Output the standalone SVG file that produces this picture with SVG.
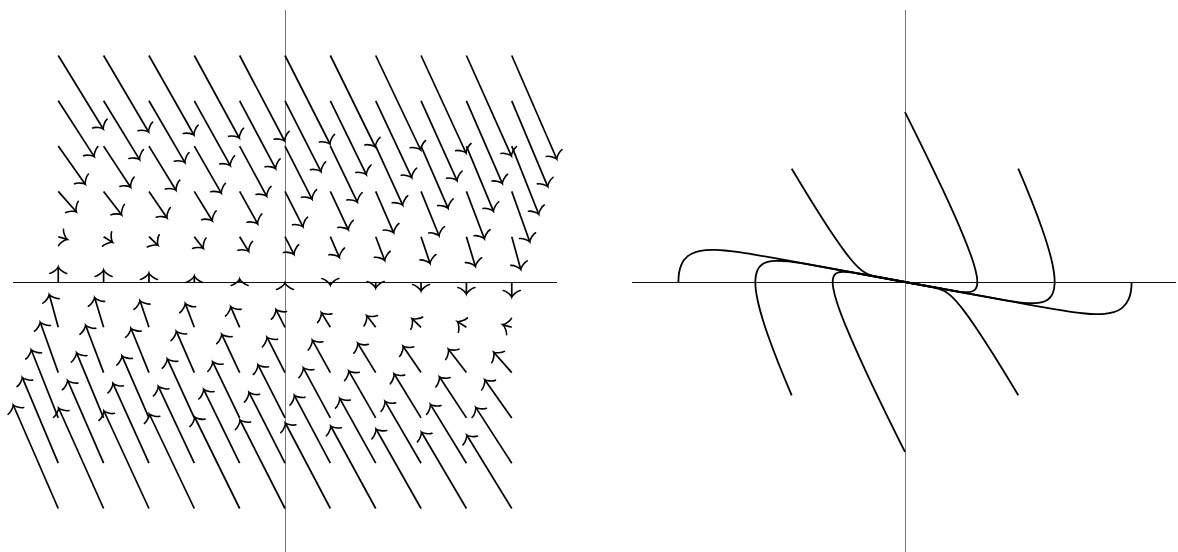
<svg xmlns="http://www.w3.org/2000/svg" xmlns:xlink="http://www.w3.org/1999/xlink" width="1178" height="552" viewBox="0 0 1178 552">
<style>
.axh{stroke:#111;stroke-width:1;fill:none}
.axv{stroke:#777;stroke-width:1;fill:none}
.a{stroke:#000;stroke-width:1.7;fill:none;marker-end:url(#ah)}
.hd{stroke:#000;stroke-width:1.6;fill:none;stroke-linecap:round}
.tr{stroke:#000;stroke-width:1.8;fill:none;stroke-linejoin:round}
</style>
<defs>
<path id="hp" d="M-6.5,-8.5 C-6,-5.3 -1.6,-0.5 0,0 C-1.6,0.5 -6,5.3 -6.5,8.5"/>
<marker id="ah" markerUnits="userSpaceOnUse" viewBox="-10 -10 12 20" refX="0" refY="0" markerWidth="12" markerHeight="20" orient="auto" overflow="visible">
<use xlink:href="#hp" href="#hp" class="hd"/>
</marker>
</defs>
<rect width="1178" height="552" fill="#fff"/>
<g id="left-plot">
<line class="axv" x1="285.5" y1="10" x2="285.5" y2="552"/>
<line class="axh" x1="13" y1="282.5" x2="557" y2="282.5"/>
<g id="field">
<path class="a" d="M58.25,55.5 l45,73.5"/><path class="a" d="M103.6,55.5 l45,76.5"/><path class="a" d="M148.95,55.5 l45,79.5"/><path class="a" d="M194.3,55.5 l45,82.5"/><path class="a" d="M239.65,55.5 l45,85.5"/><path class="a" d="M285,55.5 l45,88.5"/><path class="a" d="M330.35,55.5 l45,91.5"/><path class="a" d="M375.7,55.5 l45,94.5"/><path class="a" d="M421.05,55.5 l45,97.5"/><path class="a" d="M466.4,55.5 l45,100.5"/><path class="a" d="M511.75,55.5 l45,103.5"/>
<path class="a" d="M58.25,100.8 l36,55.8"/><path class="a" d="M103.6,100.8 l36,58.8"/><path class="a" d="M148.95,100.8 l36,61.8"/><path class="a" d="M194.3,100.8 l36,64.8"/><path class="a" d="M239.65,100.8 l36,67.8"/><path class="a" d="M285,100.8 l36,70.8"/><path class="a" d="M330.35,100.8 l36,73.8"/><path class="a" d="M375.7,100.8 l36,76.8"/><path class="a" d="M421.05,100.8 l36,79.8"/><path class="a" d="M466.4,100.8 l36,82.8"/><path class="a" d="M511.75,100.8 l36,85.8"/>
<path class="a" d="M58.25,146.1 l27,38.1"/><path class="a" d="M103.6,146.1 l27,41.1"/><path class="a" d="M148.95,146.1 l27,44.1"/><path class="a" d="M194.3,146.1 l27,47.1"/><path class="a" d="M239.65,146.1 l27,50.1"/><path class="a" d="M285,146.1 l27,53.1"/><path class="a" d="M330.35,146.1 l27,56.1"/><path class="a" d="M375.7,146.1 l27,59.1"/><path class="a" d="M421.05,146.1 l27,62.1"/><path class="a" d="M466.4,146.1 l27,65.1"/><path class="a" d="M511.75,146.1 l27,68.1"/>
<path class="a" d="M58.25,191.4 l18,20.4"/><path class="a" d="M103.6,191.4 l18,23.4"/><path class="a" d="M148.95,191.4 l18,26.4"/><path class="a" d="M194.3,191.4 l18,29.4"/><path class="a" d="M239.65,191.4 l18,32.4"/><path class="a" d="M285,191.4 l18,35.4"/><path class="a" d="M330.35,191.4 l18,38.4"/><path class="a" d="M375.7,191.4 l18,41.4"/><path class="a" d="M421.05,191.4 l18,44.4"/><path class="a" d="M466.4,191.4 l18,47.4"/><path class="a" d="M511.75,191.4 l18,50.4"/>
<path class="a" d="M58.25,236.7 l9,2.7"/><path class="a" d="M103.6,236.7 l9,5.7"/><path class="a" d="M148.95,236.7 l9,8.7"/><path class="a" d="M194.3,236.7 l9,11.7"/><path class="a" d="M239.65,236.7 l9,14.7"/><path class="a" d="M285,236.7 l9,17.7"/><path class="a" d="M330.35,236.7 l9,20.7"/><path class="a" d="M375.7,236.7 l9,23.7"/><path class="a" d="M421.05,236.7 l9,26.7"/><path class="a" d="M466.4,236.7 l9,29.7"/><path class="a" d="M511.75,236.7 l9,32.7"/>
<path class="a" d="M58.25,282 l0,-15"/><path class="a" d="M103.6,282 l0,-12"/><path class="a" d="M148.95,282 l0,-9"/><path class="a" d="M194.3,282 l0,-6"/><path class="a" d="M239.65,282 l0,-3"/><use xlink:href="#hp" href="#hp" class="hd" transform="translate(285,283) rotate(-90)"/><path class="a" d="M330.35,282 l0,3"/><path class="a" d="M375.7,282 l0,6"/><path class="a" d="M421.05,282 l0,9"/><path class="a" d="M466.4,282 l0,12"/><path class="a" d="M511.75,282 l0,15"/>
<path class="a" d="M58.25,327.3 l-9,-32.7"/><path class="a" d="M103.6,327.3 l-9,-29.7"/><path class="a" d="M148.95,327.3 l-9,-26.7"/><path class="a" d="M194.3,327.3 l-9,-23.7"/><path class="a" d="M239.65,327.3 l-9,-20.7"/><path class="a" d="M285,327.3 l-9,-17.7"/><path class="a" d="M330.35,327.3 l-9,-14.7"/><path class="a" d="M375.7,327.3 l-9,-11.7"/><path class="a" d="M421.05,327.3 l-9,-8.7"/><path class="a" d="M466.4,327.3 l-9,-5.7"/><path class="a" d="M511.75,327.3 l-9,-2.7"/>
<path class="a" d="M58.25,372.6 l-18,-50.4"/><path class="a" d="M103.6,372.6 l-18,-47.4"/><path class="a" d="M148.95,372.6 l-18,-44.4"/><path class="a" d="M194.3,372.6 l-18,-41.4"/><path class="a" d="M239.65,372.6 l-18,-38.4"/><path class="a" d="M285,372.6 l-18,-35.4"/><path class="a" d="M330.35,372.6 l-18,-32.4"/><path class="a" d="M375.7,372.6 l-18,-29.4"/><path class="a" d="M421.05,372.6 l-18,-26.4"/><path class="a" d="M466.4,372.6 l-18,-23.4"/><path class="a" d="M511.75,372.6 l-18,-20.4"/>
<path class="a" d="M58.25,417.9 l-27,-68.1"/><path class="a" d="M103.6,417.9 l-27,-65.1"/><path class="a" d="M148.95,417.9 l-27,-62.1"/><path class="a" d="M194.3,417.9 l-27,-59.1"/><path class="a" d="M239.65,417.9 l-27,-56.1"/><path class="a" d="M285,417.9 l-27,-53.1"/><path class="a" d="M330.35,417.9 l-27,-50.1"/><path class="a" d="M375.7,417.9 l-27,-47.1"/><path class="a" d="M421.05,417.9 l-27,-44.1"/><path class="a" d="M466.4,417.9 l-27,-41.1"/><path class="a" d="M511.75,417.9 l-27,-38.1"/>
<path class="a" d="M58.25,463.2 l-36,-85.8"/><path class="a" d="M103.6,463.2 l-36,-82.8"/><path class="a" d="M148.95,463.2 l-36,-79.8"/><path class="a" d="M194.3,463.2 l-36,-76.8"/><path class="a" d="M239.65,463.2 l-36,-73.8"/><path class="a" d="M285,463.2 l-36,-70.8"/><path class="a" d="M330.35,463.2 l-36,-67.8"/><path class="a" d="M375.7,463.2 l-36,-64.8"/><path class="a" d="M421.05,463.2 l-36,-61.8"/><path class="a" d="M466.4,463.2 l-36,-58.8"/><path class="a" d="M511.75,463.2 l-36,-55.8"/>
<path class="a" d="M58.25,508.5 l-45,-103.5"/><path class="a" d="M103.6,508.5 l-45,-100.5"/><path class="a" d="M148.95,508.5 l-45,-97.5"/><path class="a" d="M194.3,508.5 l-45,-94.5"/><path class="a" d="M239.65,508.5 l-45,-91.5"/><path class="a" d="M285,508.5 l-45,-88.5"/><path class="a" d="M330.35,508.5 l-45,-85.5"/><path class="a" d="M375.7,508.5 l-45,-82.5"/><path class="a" d="M421.05,508.5 l-45,-79.5"/><path class="a" d="M466.4,508.5 l-45,-76.5"/><path class="a" d="M511.75,508.5 l-45,-73.5"/>
</g>
</g>
<g id="right-plot">
<line class="axv" x1="905.5" y1="10" x2="905.5" y2="552"/>
<line class="axh" x1="632" y1="282.5" x2="1176" y2="282.5"/>
<g id="trajectories">
<path id="c1" class="tr" d="M905,112.05 C922.0,146.04 934.0,170.87 943.15,190.45 C952.31,210.03 958.58,224.31 963.23,235.54 C967.88,246.77 970.87,254.93 972.94,261.33 C975.01,267.73 976.14,272.35 976.74,275.95 C977.35,279.55 977.42,282.13 977.21,284.11 C977.0,286.10 976.49,287.49 975.84,288.54 C974.97,289.95 973.83,290.75 972.59,291.28 C970.73,292.08 968.67,292.26 966.62,292.26 C963.89,292.27 961.17,291.94 958.61,291.59 L905,282"/>
<path id="c2" class="tr" d="M791.7,168.7 C803.03,187.58 811.58,201.47 818.53,212.49 C825.48,223.51 830.82,231.63 835.21,238.09 C839.60,244.55 843.04,249.31 845.93,253.12 C848.82,256.93 851.14,259.76 853.14,262.03 C855.14,264.30 856.81,265.99 858.27,267.36 C859.73,268.73 860.99,269.77 862.13,270.62 C863.65,271.75 864.95,272.54 866.13,273.17 C867.90,274.11 869.39,274.69 870.76,275.15 C872.59,275.76 874.19,276.15 875.66,276.48 L905,282"/>
<path id="c3" class="tr" d="M1018.3,168.7 C1029.63,195.14 1037.07,214.36 1042.33,229.45 C1047.59,244.54 1050.63,255.45 1052.43,263.97 C1054.23,272.49 1054.79,278.60 1054.66,283.32 C1054.53,288.05 1053.70,291.38 1052.51,293.91 C1051.32,296.45 1049.76,298.17 1048.01,299.45 C1046.27,300.73 1044.33,301.54 1042.32,302.10 C1039.64,302.84 1036.83,303.13 1034.0,303.21 C1029.76,303.33 1025.50,302.98 1021.39,302.53 C1015.92,301.93 1010.70,301.11 1005.82,300.31 L905,282"/>
<path id="c4" class="tr" d="M1131.6,282 C1131.6,289.55 1130.50,294.89 1128.80,298.96 C1127.10,303.03 1124.81,305.82 1122.22,307.88 C1119.63,309.94 1116.75,311.27 1113.73,312.19 C1110.71,313.11 1107.56,313.61 1104.37,313.88 C1101.18,314.15 1097.95,314.18 1094.74,314.09 C1091.53,314.0 1088.34,313.77 1085.19,313.48 C1080.99,313.09 1076.88,312.59 1072.87,312.04 C1066.86,311.22 1061.11,310.29 1055.63,309.38 C1048.33,308.17 1041.51,306.97 1035.16,305.83 L905,282"/>
<use xlink:href="#c1" href="#c1" transform="rotate(180,905,282)"/>
<use xlink:href="#c2" href="#c2" transform="rotate(180,905,282)"/>
<use xlink:href="#c3" href="#c3" transform="rotate(180,905,282)"/>
<use xlink:href="#c4" href="#c4" transform="rotate(180,905,282)"/>
</g>
</g>
</svg>
